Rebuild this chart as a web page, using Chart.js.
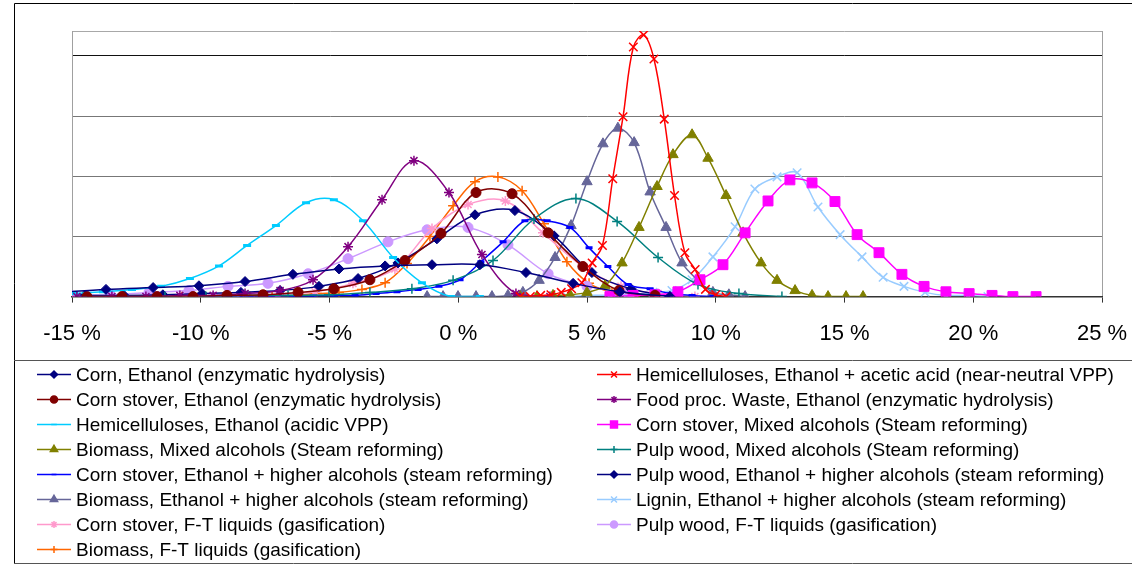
<!DOCTYPE html>
<html>
<head>
<meta charset="utf-8">
<script src="https://cdn.jsdelivr.net/npm/chart.js@4.4.1/dist/chart.umd.min.js"></script>
<style>
html, body { margin: 0; padding: 0; background: #fff; }
canvas { display: block; }
</style>
</head>
<body>
<canvas id="chart" width="1132" height="564"></canvas>
<script>
// x = change in %, y = relative frequency (1 = one gridline)
var cornEthX = [-15.49, -13.68, -11.85, -10.07, -8.28, -6.42, -4.63, -2.84, -1.02, 0.84, 2.63, 4.46, 6.28, 8.22];
var cornEthY = [0.07, 0.12, 0.15, 0.18, 0.25, 0.37, 0.46, 0.51, 0.53, 0.53, 0.40, 0.22, 0.08, 0];

var hemiAceticX = [2.4, 2.8, 3.2, 3.6, 4.0, 4.4, 4.8, 5.2, 5.6, 6.0, 6.4, 6.8, 7.2, 7.6, 8.0, 8.4, 8.8, 9.2, 9.6, 10.0, 10.4];
var hemiAceticY = [0, 0, 0.02, 0.03, 0.07, 0.13, 0.23, 0.56, 0.85, 1.96, 2.99, 4.15, 4.35, 3.95, 2.95, 1.68, 0.73, 0.45, 0.12, 0.03, 0];

var cornStoverEthX = [-14.42, -13.06, -11.70, -10.30, -8.98, -7.58, -6.22, -4.83, -3.43, -2.07, -0.67, 0.69, 2.09, 3.49, 4.84, 6.24, 7.64];
var cornStoverEthY = [0, 0, 0, 0, 0.02, 0.03, 0.07, 0.13, 0.28, 0.60, 1.05, 1.73, 1.71, 1.06, 0.50, 0.10, 0.02];

var foodProcX = [-14.81, -13.45, -12.13, -10.81, -9.52, -8.28, -6.92, -5.64, -4.28, -2.96, -1.72, -0.36, 0.92, 2.24, 3.56];
var foodProcY = [0, 0, 0, 0.02, 0.02, 0.05, 0.10, 0.28, 0.83, 1.61, 2.26, 1.73, 0.70, 0.05, 0];

var hemiAcidicX = [-14.92, -13.80, -12.67, -11.54, -10.42, -9.29, -8.20, -7.08, -5.91, -4.83, -3.70, -2.53, -1.41, -0.28, 0.84];
var hemiAcidicY = [0.05, 0.08, 0.12, 0.17, 0.30, 0.51, 0.85, 1.18, 1.56, 1.61, 1.26, 0.65, 0.23, 0, 0];

var cornStoverMixedX = [5.89, 6.79, 7.64, 8.53, 9.39, 10.28, 11.14, 12.03, 12.88, 13.74, 14.63, 15.49, 16.34, 17.23, 18.09, 18.94, 19.84, 20.73, 21.54, 22.44];
var cornStoverMixedY = [0, 0.02, 0.03, 0.08, 0.28, 0.53, 1.06, 1.59, 1.94, 1.89, 1.58, 1.03, 0.73, 0.37, 0.17, 0.08, 0.05, 0.02, 0, 0];

var biomassMixedX = [2.40, 3.06, 3.68, 4.34, 5.00, 5.70, 6.36, 7.02, 7.72, 8.34, 9.08, 9.70, 10.40, 11.06, 11.76, 12.38, 13.08, 13.74, 14.36, 15.06, 15.72];
var biomassMixedY = [0, 0, 0.02, 0.03, 0.07, 0.18, 0.56, 1.15, 1.83, 2.36, 2.69, 2.30, 1.68, 1.06, 0.56, 0.27, 0.10, 0.02, 0, 0, 0];

var pulpMixedX = [-14.57, -12.98, -11.39, -9.80, -8.20, -6.61, -5.02, -3.43, -1.80, -0.20, 1.35, 2.94, 4.57, 6.17, 7.76, 9.31, 10.90, 12.57];
var pulpMixedY = [0, 0, 0, 0, 0.02, 0.02, 0.03, 0.07, 0.13, 0.27, 0.60, 1.29, 1.63, 1.25, 0.65, 0.20, 0.05, 0];

var cornStoverHigherX = [-9.72, -8.90, -8.09, -7.27, -6.46, -5.64, -4.83, -4.01, -3.19, -2.38, -1.56, -0.75, 0.07, 0.88, 1.74, 2.59, 3.45, 4.34, 5.08, 5.81, 6.59, 7.45, 8.26, 9.08, 9.89];
var cornStoverHigherY = [0, 0, 0, 0, 0, 0.01, 0.02, 0.02, 0.05, 0.08, 0.12, 0.17, 0.28, 0.58, 0.91, 1.26, 1.26, 1.15, 0.81, 0.50, 0.20, 0.13, 0.05, 0.02, 0];

var pulpHigherX = [-14.50, -12.98, -11.47, -9.95, -8.44, -6.92, -5.41, -3.89, -2.34, -0.83, 0.65, 2.20, 3.72, 5.19, 6.71, 8.22];
var pulpHigherY = [0.02, 0.02, 0.03, 0.05, 0.07, 0.10, 0.17, 0.30, 0.56, 0.96, 1.36, 1.43, 1.01, 0.40, 0.13, 0];

var biomassHigherX = [-1.21, -0.59, -0.01, 0.69, 1.31, 1.93, 2.51, 3.14, 3.76, 4.38, 5.00, 5.62, 6.20, 6.83, 7.45, 8.07, 8.69, 9.31, 9.89, 10.51, 11.14];
var biomassHigherY = [0, 0, 0, 0, 0, 0.02, 0.07, 0.27, 0.65, 1.18, 1.91, 2.54, 2.80, 2.56, 1.74, 1.15, 0.56, 0.27, 0.07, 0.03, 0];

var ligninX = [4.22, 5.04, 5.89, 6.75, 7.56, 8.30, 9.08, 9.89, 10.75, 11.52, 12.38, 13.16, 13.97, 14.83, 15.68, 16.50, 17.31, 18.13, 18.94, 19.80, 20.57];
var ligninY = [0, 0.02, 0.02, 0.02, 0.07, 0.10, 0.28, 0.66, 1.16, 1.79, 1.99, 2.06, 1.49, 1.03, 0.66, 0.32, 0.17, 0.07, 0.02, 0.02, 0];

var cornStoverFTX = [-14.57, -13.02, -11.47, -10.03, -8.51, -7.00, -5.56, -4.09, -2.46, -1.02, 0.38, 1.83, 3.29, 4.84, 6.32, 7.76, 9.19];
var cornStoverFTY = [0, 0, 0, 0, 0.02, 0.03, 0.08, 0.22, 0.46, 1.13, 1.53, 1.59, 1.06, 0.50, 0.17, 0.05, 0];

var pulpFTX = [-15.08, -13.52, -12.01, -10.46, -8.94, -7.39, -5.83, -4.28, -2.73, -1.21, 0.38, 1.93, 3.49, 5.00, 6.55, 8.11];
var pulpFTY = [0.03, 0.03, 0.07, 0.10, 0.17, 0.22, 0.38, 0.63, 0.91, 1.11, 1.15, 0.86, 0.38, 0.17, 0.07, 0];

var biomassFTX = [-10.73, -9.83, -8.98, -8.09, -7.23, -6.34, -5.49, -4.63, -3.74, -2.84, -1.99, -1.10, -0.20, 0.65, 1.54, 2.48, 3.33, 4.22, 5.08, 5.97, 6.86];
var biomassFTY = [0, 0, 0, 0, 0, 0.02, 0.05, 0.07, 0.12, 0.23, 0.55, 1.00, 1.51, 1.91, 1.99, 1.76, 1.21, 0.58, 0.22, 0.07, 0];

// axis
var xMin = -15, xMax = 25, xStep = 5;
var yMax = 4.415;

// legend order (two columns, filled row by row)
var series = [
  { label: 'Corn, Ethanol (enzymatic hydrolysis)', x: cornEthX, y: cornEthY, color: '#000080', style: 'rectRot', r: 5 },
  { label: 'Hemicelluloses, Ethanol + acetic acid (near-neutral VPP)', x: hemiAceticX, y: hemiAceticY, color: '#ff0000', style: 'crossRot', r: 6 },
  { label: 'Corn stover, Ethanol (enzymatic hydrolysis)', x: cornStoverEthX, y: cornStoverEthY, color: '#800000', style: 'circle', r: 5 },
  { label: 'Food proc. Waste, Ethanol (enzymatic hydrolysis)', x: foodProcX, y: foodProcY, color: '#800080', style: 'star', r: 5 },
  { label: 'Hemicelluloses, Ethanol (acidic VPP)', x: hemiAcidicX, y: hemiAcidicY, color: '#00ccff', style: 'line', r: 4 },
  { label: 'Corn stover, Mixed alcohols (Steam reforming)', x: cornStoverMixedX, y: cornStoverMixedY, color: '#ff00ff', style: 'rect', r: 7 },
  { label: 'Biomass, Mixed alcohols (Steam reforming)', x: biomassMixedX, y: biomassMixedY, color: '#808000', style: 'triangle', r: 6 },
  { label: 'Pulp wood, Mixed alcohols (Steam reforming)', x: pulpMixedX, y: pulpMixedY, color: '#008080', style: 'cross', r: 5 },
  { label: 'Corn stover, Ethanol + higher alcohols (steam reforming)', x: cornStoverHigherX, y: cornStoverHigherY, color: '#0000ff', style: 'line', r: 3.5 },
  { label: 'Pulp wood, Ethanol + higher alcohols (steam reforming)', x: pulpHigherX, y: pulpHigherY, color: '#000080', style: 'rectRot', r: 5 },
  { label: 'Biomass, Ethanol + higher alcohols (steam reforming)', x: biomassHigherX, y: biomassHigherY, color: '#666699', style: 'triangle', r: 6 },
  { label: 'Lignin, Ethanol + higher alcohols (steam reforming)', x: ligninX, y: ligninY, color: '#99ccff', style: 'crossRot', r: 6 },
  { label: 'Corn stover, F-T liquids (gasification)', x: cornStoverFTX, y: cornStoverFTY, color: '#ff99cc', style: 'star', r: 5 },
  { label: 'Pulp wood, F-T liquids (gasification)', x: pulpFTX, y: pulpFTY, color: '#cc99ff', style: 'circle', r: 5 },
  { label: 'Biomass, F-T liquids (gasification)', x: biomassFTX, y: biomassFTY, color: '#ff6600', style: 'cross', r: 5 }
];

var FONT = '"Liberation Sans", Arial, sans-serif';
var lineStyles = { cross: 1, crossRot: 1, star: 1, line: 1 };

var datasets = series.map(function(s) {
  var open = lineStyles[s.style];
  return {
    label: s.label,
    data: s.x.map(function(v, i) { return { x: v, y: s.y[i] }; }),
    borderColor: s.color,
    backgroundColor: s.color,
    borderWidth: 1.5,
    pointStyle: s.style,
    pointRadius: s.r,
    pointBorderWidth: s.style === 'line' ? 3 : (open ? 1.5 : 1),
    pointBackgroundColor: s.color,
    pointBorderColor: s.color,
    tension: 0.35,
    fill: false
  };
});

// outer frame and legend box
var framePlugin = {
  id: 'frame',
  beforeDraw: function(chart) {
    var ctx = chart.ctx;
    ctx.save();
    ctx.fillStyle = '#fff';
    ctx.fillRect(0, 0, chart.width, chart.height);
    ctx.strokeStyle = '#000';
    ctx.lineWidth = 1;
    ctx.beginPath();
    ctx.moveTo(14.5, 564); ctx.lineTo(14.5, 3.5); ctx.lineTo(1132, 3.5);
    ctx.stroke();
    ctx.strokeStyle = '#555';
    ctx.beginPath();
    ctx.moveTo(14, 360.5); ctx.lineTo(1132, 360.5);
    ctx.moveTo(14, 563.5); ctx.lineTo(1132, 563.5);
    ctx.stroke();
    ctx.restore();
  }
};

var legendPlugin = {
  id: 'boxLegend',
  afterDraw: function(chart) {
    var ctx = chart.ctx;
    var drawPoint = Chart.helpers && Chart.helpers.drawPoint;
    ctx.save();
    ctx.font = '19px ' + FONT;
    ctx.textBaseline = 'middle';
    chart.data.datasets.forEach(function(ds, i) {
      var col = i % 2, row = Math.floor(i / 2);
      var x0 = col ? 597 : 37;
      var y = Math.round(373.5 + row * 25.1) + 0.5;
      ctx.strokeStyle = ds.borderColor;
      ctx.fillStyle = ds.borderColor;
      ctx.lineWidth = 1.5;
      ctx.beginPath();
      ctx.moveTo(x0, y); ctx.lineTo(x0 + 34, y);
      ctx.stroke();
      if (drawPoint) {
        drawPoint(ctx, {
          pointStyle: ds.pointStyle,
          radius: ds.pointRadius * 0.7,
          borderWidth: ds.pointStyle === 'line' ? 2.5 : 1.2,
          rotation: 0
        }, x0 + 17, y);
      }
      ctx.fillStyle = '#000';
      ctx.fillText(ds.label, x0 + 39, y + 1);
    });
    ctx.restore();
  }
};

var canvas = document.getElementById('chart');
var ctx = canvas.getContext('2d');
var myChart = new Chart(ctx, {
  type: 'line',
  data: { datasets: datasets },
  options: {
    responsive: false,
    animation: false,
    devicePixelRatio: 1,
    layout: { padding: { left: 72, right: 30, top: 31, bottom: 199 } },
    plugins: { legend: { display: false }, tooltip: { enabled: false } },
    scales: {
      x: {
        type: 'linear',
        min: xMin,
        max: xMax,
        afterFit: function(s) { s.paddingLeft = 0; s.paddingRight = 0; },
        ticks: {
          stepSize: xStep,
          autoSkip: false,
          maxRotation: 0,
          padding: 18,
          color: '#000',
          font: { family: FONT, size: 22 },
          callback: function(v) { return v + ' %'; }
        },
        grid: {
          color: function(c) { return c.tick && c.tick.value === xMax ? '#a0a0a0' : 'rgba(0,0,0,0)'; },
          tickColor: '#333',
          tickLength: 6,
          lineWidth: 1
        },
        border: { color: '#333', width: 1.5 }
      },
      y: {
        min: 0,
        max: yMax,
        ticks: { display: false, stepSize: 1 },
        grid: {
          drawTicks: false,
          color: function(c) {
            var v = c.tick ? c.tick.value : 0;
            if (v === yMax) return '#a8a8a8';
            if (v === 4) return '#111';
            return '#777';
          },
          lineWidth: 1
        },
        border: { color: '#a0a0a0', width: 1 }
      }
    }
  },
  plugins: [framePlugin, legendPlugin]
});
</script>
</body>
</html>
